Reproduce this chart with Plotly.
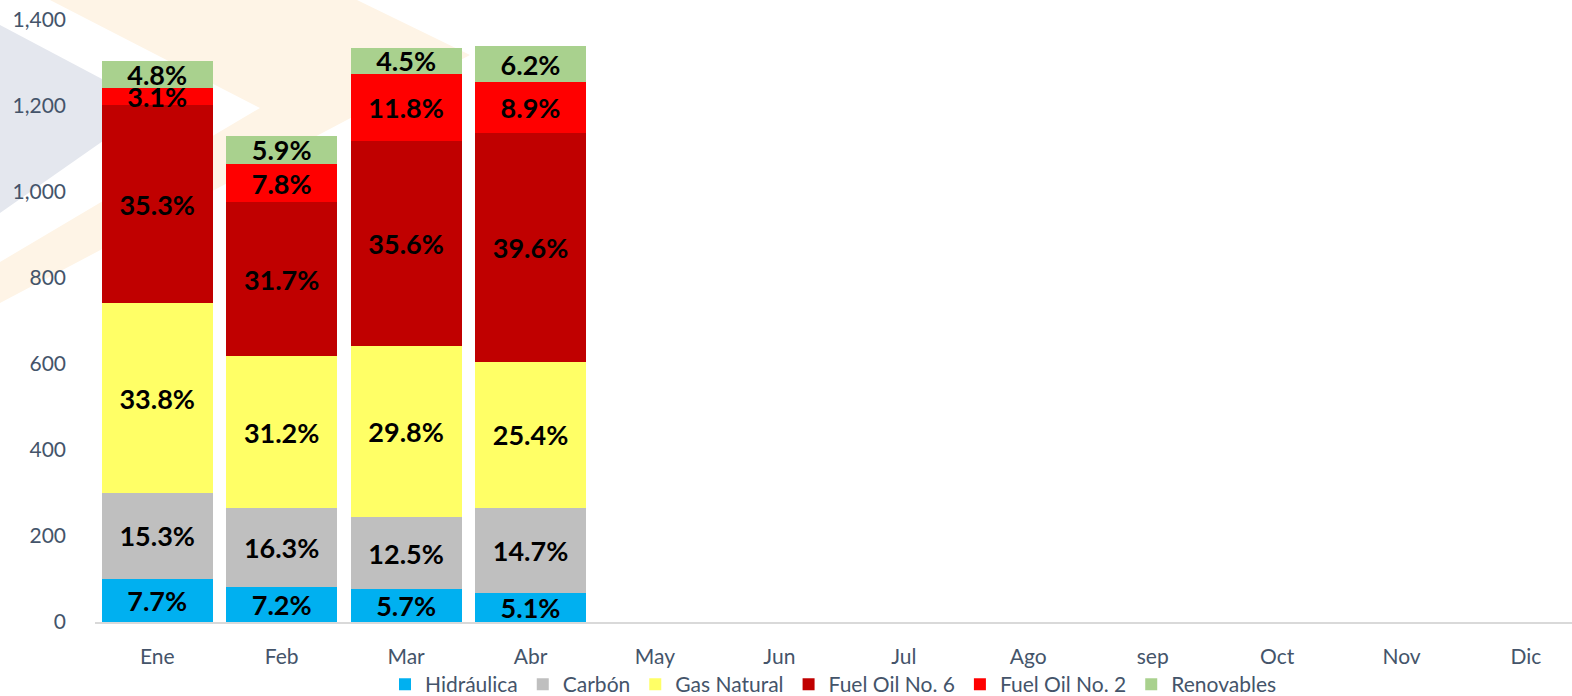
import plotly.graph_objects as go

# ---- data ----
months = ["Ene", "Feb", "Mar", "Abr", "May", "Jun", "Jul", "Ago", "sep", "Oct", "Nov", "Dic"]
totals = [1305, 1130, 1337, 1340]  # monthly total (height of stacked bar)

series_names = ["Hidráulica", "Carbón", "Gas Natural", "Fuel Oil No. 6", "Fuel Oil No. 2", "Renovables"]
pct_hidraulica = [7.7, 7.2, 5.7, 5.1]
pct_carbon = [15.3, 16.3, 12.5, 14.7]
pct_gas = [33.8, 31.2, 29.8, 25.4]
pct_fo6 = [35.3, 31.7, 35.6, 39.6]
pct_fo2 = [3.1, 7.8, 11.8, 8.9]
pct_renov = [4.8, 5.9, 4.5, 6.2]

colors = ["#00B0F0", "#BFBFBF", "#FFFF66", "#C00000", "#FF0000", "#A9D18E"]
series_pcts = [pct_hidraulica, pct_carbon, pct_gas, pct_fo6, pct_fo2, pct_renov]

fig = go.Figure()
for name, pcts, col in zip(series_names, series_pcts, colors):
    vals = [t * p / 100 for t, p in zip(totals, pcts)]
    fig.add_trace(go.Bar(
        x=months[:len(vals)],
        y=vals,
        name=name,
        marker=dict(color=col, line=dict(width=0)),
        text=[f"{p:.1f}%" for p in pcts],
        textposition="inside",
        insidetextanchor="middle",
        textangle=0,
        constraintext="none",
        textfont=dict(family="Lato", size=27, color="black", weight="bold"),
    ))

# ---- faint background watermark (decorative) ----
L, T, W, H = 95, 20, 1477, 602
def P(px, py):
    return (px - L) / W, (T + H - py) / H

def path(points):
    s = ""
    for i, (px, py) in enumerate(points):
        x, y = P(px, py)
        s += ("M" if i == 0 else "L") + f"{x:.5f},{y:.5f} "
    return s + "Z"

shapes = [
    dict(type="path", xref="paper", yref="paper", layer="below", line=dict(width=0),
         fillcolor="#FEF4E6",
         path=path([(50, 0), (357, 0), (470, 55), (0, 303), (0, 262), (260, 108)])),
    dict(type="path", xref="paper", yref="paper", layer="below", line=dict(width=0),
         fillcolor="#E4E7EE",
         path=path([(0, 25), (153, 106), (0, 213)])),
]

tickfont = dict(family="Lato", size=21, color="#44546A")
fig.update_layout(
    width=1572, height=696,
    margin=dict(l=L, r=0, t=T, b=74, autoexpand=False),
    barmode="stack",
    bargap=0.108,
    plot_bgcolor="rgba(0,0,0,0)",
    paper_bgcolor="white",
    shapes=shapes,
    showlegend=True,
    legend=dict(orientation="h", x=0.5, xanchor="center", y=-0.104, yanchor="middle",
                font=dict(family="Lato", size=21, color="#44546A"),
                traceorder="normal", itemwidth=30, bgcolor="rgba(0,0,0,0)"),
    xaxis=dict(categoryorder="array", categoryarray=months, range=[-0.5, 11.37],
               showline=True, linecolor="#D9D9D9", linewidth=2, showgrid=False,
               ticks="", tickfont=tickfont, ticklabelstandoff=15, fixedrange=True,
               automargin=False),
    yaxis=dict(range=[0, 1400], dtick=200, tickformat=",", showgrid=False, zeroline=False,
               showline=False, ticks="", tickfont=tickfont, ticklabelstandoff=28,
               automargin=False),
)

fig.write_html(
    "out.html",
    config={"displayModeBar": False},
    post_script="document.body.style.margin='0';document.body.style.overflow='hidden';",
)
